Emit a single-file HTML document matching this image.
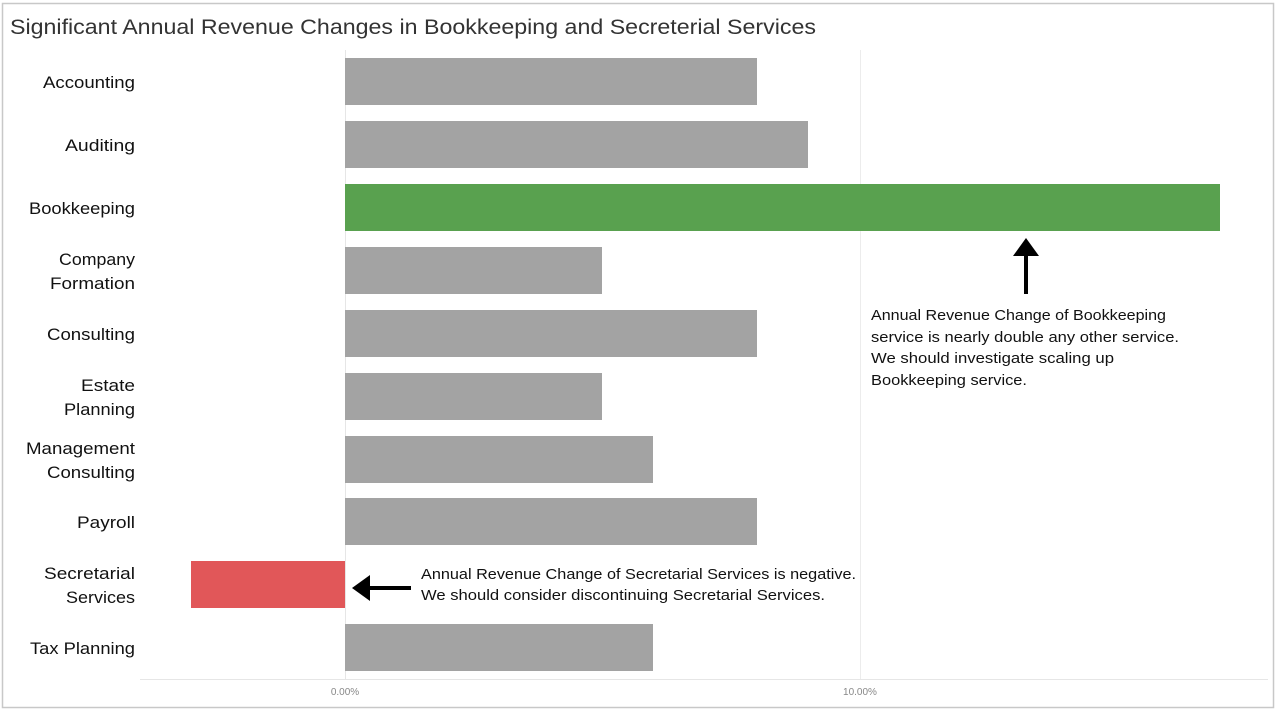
<!DOCTYPE html>
<html><head><style>
html,body{margin:0;padding:0;background:#fff;}
body{width:1280px;height:712px;overflow:hidden;position:relative;font-family:"Liberation Sans","DejaVu Sans",sans-serif;}
</style></head><body>
<svg width="1280" height="712" xmlns="http://www.w3.org/2000/svg" style="position:absolute;left:0;top:0">
<rect x="2.5" y="3.5" width="1271" height="704" fill="#fff" stroke="#c8c8c8" stroke-width="1.5"/>
<text x="10" y="34" font-size="21" fill="#333" textLength="806" lengthAdjust="spacingAndGlyphs">Significant Annual Revenue Changes in Bookkeeping and Secreterial Services</text>
<line x1="345.5" y1="50" x2="345.5" y2="679" stroke="#e6e6e6"/>
<line x1="860.5" y1="50" x2="860.5" y2="679" stroke="#ececec"/>
<line x1="140" y1="679.5" x2="1268" y2="679.5" stroke="#e6e6e6"/>
<g fill="#a3a3a3">
<rect x="345" y="58" width="412" height="47"/>
<rect x="345" y="121" width="463" height="47"/>
<rect x="345" y="247" width="257" height="47"/>
<rect x="345" y="310" width="412" height="47"/>
<rect x="345" y="373" width="257" height="47"/>
<rect x="345" y="436" width="308" height="47"/>
<rect x="345" y="498" width="412" height="47"/>
<rect x="345" y="624" width="308" height="47"/>
</g>
<rect x="345" y="184" width="875" height="47" fill="#59a14f"/>
<rect x="191" y="561" width="154" height="47" fill="#e15759"/>
<g font-size="17" fill="#111" text-anchor="end" lengthAdjust="spacingAndGlyphs">
<text x="135" y="88" textLength="92" lengthAdjust="spacingAndGlyphs">Accounting</text>
<text x="135" y="151" textLength="70" lengthAdjust="spacingAndGlyphs">Auditing</text>
<text x="135" y="214" textLength="106" lengthAdjust="spacingAndGlyphs">Bookkeeping</text>
<text x="135" y="265" textLength="76" lengthAdjust="spacingAndGlyphs">Company</text>
<text x="135" y="289" textLength="85" lengthAdjust="spacingAndGlyphs">Formation</text>
<text x="135" y="340" textLength="88" lengthAdjust="spacingAndGlyphs">Consulting</text>
<text x="135" y="391" textLength="54" lengthAdjust="spacingAndGlyphs">Estate</text>
<text x="135" y="415" textLength="71" lengthAdjust="spacingAndGlyphs">Planning</text>
<text x="135" y="454" textLength="109" lengthAdjust="spacingAndGlyphs">Management</text>
<text x="135" y="478" textLength="88" lengthAdjust="spacingAndGlyphs">Consulting</text>
<text x="135" y="528" textLength="58" lengthAdjust="spacingAndGlyphs">Payroll</text>
<text x="135" y="579" textLength="91" lengthAdjust="spacingAndGlyphs">Secretarial</text>
<text x="135" y="603" textLength="69" lengthAdjust="spacingAndGlyphs">Services</text>
<text x="135" y="654" textLength="105" lengthAdjust="spacingAndGlyphs">Tax Planning</text>
</g>
<g font-size="10" fill="#888" text-anchor="middle">
<text x="345" y="695">0.00%</text>
<text x="860" y="695">10.00%</text>
</g>
<g font-size="15" fill="#111">
<text x="871" y="320" textLength="295" lengthAdjust="spacingAndGlyphs">Annual Revenue Change of Bookkeeping</text>
<text x="871" y="342" textLength="308" lengthAdjust="spacingAndGlyphs">service is nearly double any other service.</text>
<text x="871" y="363" textLength="243" lengthAdjust="spacingAndGlyphs">We should investigate scaling up</text>
<text x="871" y="385" textLength="156" lengthAdjust="spacingAndGlyphs">Bookkeeping service.</text>
<text x="421" y="579" textLength="435" lengthAdjust="spacingAndGlyphs">Annual Revenue Change of Secretarial Services is negative.</text>
<text x="421" y="600" textLength="404" lengthAdjust="spacingAndGlyphs">We should consider discontinuing Secretarial Services.</text>
</g>
<line x1="1026" y1="294" x2="1026" y2="256" stroke="#000" stroke-width="4"/>
<polygon points="1013,256 1026,238 1039,256" fill="#000"/>
<line x1="411" y1="588" x2="370" y2="588" stroke="#000" stroke-width="4"/>
<polygon points="370,575 352,588 370,601" fill="#000"/>
</svg>
</body></html>
